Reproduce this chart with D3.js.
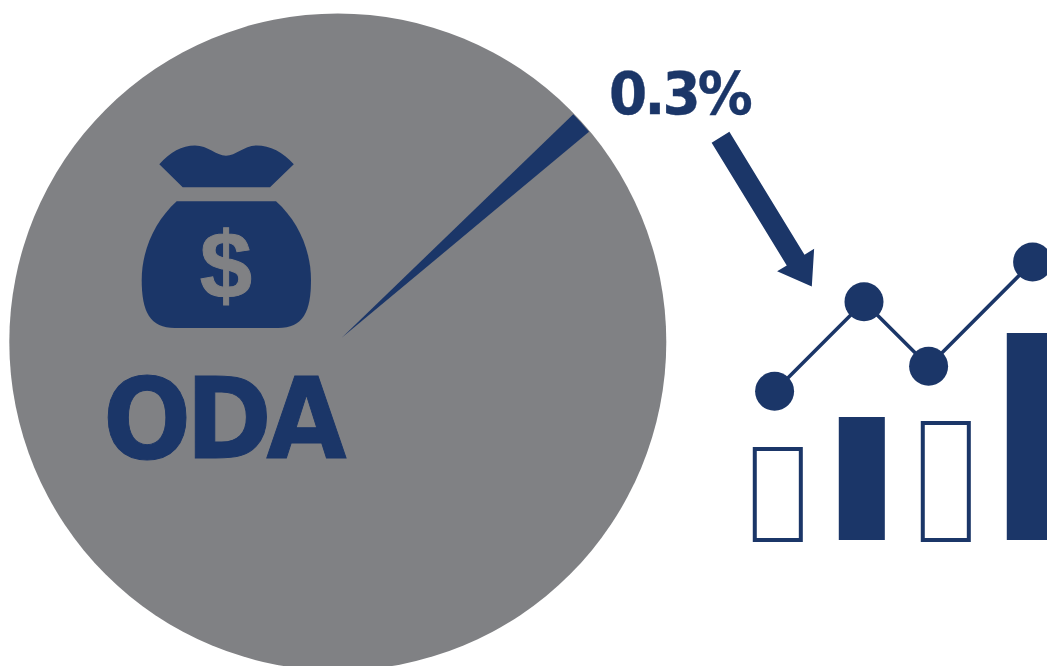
<!DOCTYPE html>
<html>
<head>
<meta charset="utf-8">
<title>ODA 0.3%</title>
<script src="https://cdn.jsdelivr.net/npm/d3@7"></script>
<style>
html, body { margin: 0; padding: 0; background: #fff; overflow: hidden; }
svg { display: block; }
text { font-family: "DejaVu Sans", sans-serif; font-weight: bold; }
</style>
</head>
<body>
<div id="chart"></div>
<script>
// dati
var sliceNames = ["ODA", "Rest"];
var sliceShares = [1.17, 98.83]; // spicchio come disegnato, non il 0.3% dell'etichetta
var barNames = ["a", "b", "c", "d"];
var barValues = [91, 123, 117, 207];
var barOutlined = [true, false, true, false];
var lineOffsets = [0, 89.4, 154, 258];
var lineValues = [148.7, 238.3, 173.7, 278];

var width = 1047;
var height = 666;
var navy = "#1b3668";
var grey = "#808184";

var svg = d3.select("#chart")
            .append("svg")
            .attr("width", width)
            .attr("height", height);

// cerchio grigio
svg.append("path")
   .attr("transform", "translate(337.8,342)")
   .attr("fill", grey)
   .attr("d", d3.arc()({innerRadius: 0, outerRadius: 328.5, startAngle: 0, endAngle: 2 * Math.PI}));

// spicchio blu, il vertice e' leggermente spostato dal centro del cerchio
var pie = d3.pie().sort(null).startAngle(46 * Math.PI / 180).endAngle(406 * Math.PI / 180);
var slices = pie(sliceShares);
svg.append("path")
   .datum(slices[sliceNames.indexOf("ODA")])
   .attr("transform", "translate(342,337.5)")
   .attr("fill", navy)
   .attr("d", d3.arc().innerRadius(0).outerRadius(321.5));

// sacco di monete
svg.append("path")
   .attr("fill", navy)
   .attr("d", "M159.3,164.3 C170,152 182,145.5 195,145.5 C208,145.5 216,155.7 226,155.7 C236,155.7 244,145.5 256.7,145.5 C270,145.5 283,152 293.8,164.3 L270,187.3 L182.7,187.3 Z");
svg.append("path")
   .attr("fill", navy)
   .attr("d", "M176.7,201.3 L276,201.3 C298,221 311,250 311,280 C311,312 303,328 278,328 L175,328 C150,328 141.7,312 141.7,280 C141.7,250 155,221 176.7,201.3 Z");
svg.append("text")
   .attr("x", 226)
   .attr("y", 298)
   .attr("text-anchor", "middle")
   .attr("fill", grey)
   .attr("stroke", grey)
   .attr("stroke-width", 1)
   .style("font-family", "'Liberation Sans', sans-serif")
   .style("font-size", "94px")
   .text("$");

// testi
svg.append("text")
   .attr("x", 103)
   .attr("y", 457.5)
   .attr("fill", navy)
   .attr("stroke", navy)
   .attr("stroke-width", 1)
   .attr("textLength", 238)
   .attr("lengthAdjust", "spacingAndGlyphs")
   .style("letter-spacing", "-6px")
   .style("font-size", "112px")
   .text("ODA");

svg.append("text")
   .attr("x", 609)
   .attr("y", 114)
   .attr("fill", navy)
   .attr("stroke", navy)
   .attr("stroke-width", 0.4)
   .attr("textLength", 141)
   .attr("lengthAdjust", "spacingAndGlyphs")
   .style("letter-spacing", "-3px")
   .style("font-size", "59px")
   .text("0.3%");

// freccia: asse lungo la direzione, profilo nel sistema locale
var arrowStart = [720.5, 137.2];
var arrowTip = [811.8, 286.5];
var arrowLen = Math.hypot(arrowTip[0] - arrowStart[0], arrowTip[1] - arrowStart[1]);
var arrowAngle = Math.atan2(arrowTip[1] - arrowStart[1], arrowTip[0] - arrowStart[0]) * 180 / Math.PI;
var headLen = 31;
var arrowShape = [[0, -10.4], [arrowLen - headLen, -10.4], [arrowLen - headLen, -21.7], [arrowLen, 0],
                  [arrowLen - headLen, 21.7], [arrowLen - headLen, 10.4], [0, 10.4]];
svg.append("path")
   .attr("transform", `translate(${arrowStart[0]},${arrowStart[1]}) rotate(${arrowAngle})`)
   .attr("fill", navy)
   .attr("d", d3.line()(arrowShape) + "Z");

// barre
var x = d3.scaleBand()
          .domain(barNames)
          .range([735.8, 1071.8])
          .paddingInner(0.452)
          .paddingOuter(0.226);
var y = d3.scaleLinear()
          .domain([0, 207])
          .range([540, 333]);

svg.append("g")
   .selectAll("rect")
   .data(barValues)
   .enter()
   .append("rect")
   .attr("x", (d, i) => x(barNames[i]))
   .attr("y", d => y(d))
   .attr("width", x.bandwidth())
   .attr("height", d => y(0) - y(d))
   .attr("fill", (d, i) => barOutlined[i] ? "#fff" : navy)
   .attr("stroke", (d, i) => barOutlined[i] ? navy : "none")
   .attr("stroke-width", 4);

// linea con i punti
var lineX = d3.scaleLinear()
              .domain([0, 258])
              .range([774.6, 1032.6]);
var points = lineOffsets.map((d, i) => [lineX(d), y(lineValues[i])]);

svg.append("path")
   .attr("fill", "none")
   .attr("stroke", navy)
   .attr("stroke-width", 3.6)
   .attr("d", d3.line()(points));

svg.append("g")
   .selectAll("circle")
   .data(points)
   .enter()
   .append("circle")
   .attr("cx", d => d[0])
   .attr("cy", d => d[1])
   .attr("r", 19.5)
   .attr("fill", navy);
</script>
</body>
</html>
